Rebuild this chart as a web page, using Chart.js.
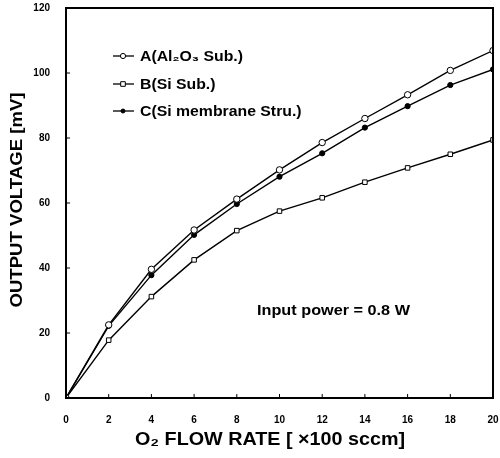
<!DOCTYPE html>
<html><head><meta charset="utf-8">
<script src="https://cdn.jsdelivr.net/npm/chart.js@4.4.0/dist/chart.umd.min.js"></script>
<style>html,body{margin:0;padding:0;background:#fff}#wrap{width:500px;height:458px}</style>
</head><body><div id="wrap"><canvas id="c" width="500" height="458"></canvas></div>
<script>
const flowRate = [0, 2, 4, 6, 8, 10, 12, 14, 16, 18, 20];
const seriesA = [0, 22.5, 39.6, 51.7, 61.2, 70.2, 78.6, 86.0, 93.3, 100.8, 106.9];
const seriesB = [0, 17.8, 31.2, 42.5, 51.5, 57.5, 61.6, 66.4, 70.8, 75.0, 79.4];
const seriesC = [0, 22.2, 37.8, 50.2, 59.7, 68.1, 75.3, 83.2, 89.8, 96.3, 101.1];
const seriesNames = ['A(Al\u2082O\u2083 Sub.)', 'B(Si Sub.)', 'C(Si membrane Stru.)'];
const xTitle = 'O\u2082 FLOW RATE [ \u00d7100 sccm]';
const yTitle = 'OUTPUT VOLTAGE [mV]';
const note = 'Input power = 0.8 W';

const FONT = '"Liberation Sans", Arial, sans-serif';
const pts = arr => flowRate.map((x, i) => ({x, y: arr[i]}));

const styles = [
  {pointStyle: 'circle', radius: 3.2, bg: '#fff'},
  {pointStyle: 'rect', radius: 3.2, bg: '#fff'},
  {pointStyle: 'circle', radius: 2.6, bg: '#000'}
];

function drawStretched(ctx, text, size, sx, x, y) {
  ctx.font = 'bold ' + size + 'px ' + FONT;
  ctx.save();
  ctx.translate(x, y);
  ctx.scale(sx, 1);
  ctx.fillText(text, 0, 0);
  ctx.restore();
}
function stretchFor(ctx, text, size, target) {
  ctx.font = 'bold ' + size + 'px ' + FONT;
  return target / ctx.measureText(text).width;
}

const deco = {
  id: 'deco',
  afterDraw(chart) {
    const ctx = chart.ctx, a = chart.chartArea;
    const xs = chart.scales.x, ys = chart.scales.y;
    ctx.save();
    ctx.strokeStyle = '#000';
    ctx.lineWidth = 2;
    ctx.strokeRect(a.left, a.top, a.right - a.left, a.bottom - a.top);
    ctx.lineWidth = 1;
    ctx.beginPath();
    ys.ticks.forEach(t => {const y = ys.getPixelForValue(t.value); ctx.moveTo(a.left, y); ctx.lineTo(a.left + 4, y);});
    xs.ticks.forEach(t => {const x = xs.getPixelForValue(t.value); ctx.moveTo(x, a.bottom); ctx.lineTo(x, a.bottom - 4);});
    ctx.stroke();
    // legend
    const rows = [56, 84, 111];
    ctx.textBaseline = 'middle';
    ctx.fillStyle = '#000';
    const lsx = stretchFor(ctx, seriesNames[0], 14, 103);
    rows.forEach((y, i) => {
      ctx.lineWidth = 1.3;
      ctx.beginPath(); ctx.moveTo(113, y); ctx.lineTo(134, y); ctx.stroke();
      const s = styles[i];
      ctx.fillStyle = s.bg;
      ctx.lineWidth = 1;
      ctx.beginPath();
      if (s.pointStyle === 'rect') ctx.rect(123 - 2.3, y - 2.3, 4.6, 4.6);
      else ctx.arc(123, y, s.radius - 0.6, 0, Math.PI * 2);
      ctx.fill(); ctx.stroke();
      ctx.fillStyle = '#000';
      drawStretched(ctx, seriesNames[i], 14, lsx, 140, y + 1);
    });
    drawStretched(ctx, note, 14.5, stretchFor(ctx, note, 14.5, 153), 257, 311);
    // axis titles
    ctx.textAlign = 'center';
    drawStretched(ctx, xTitle, 18, stretchFor(ctx, xTitle, 18, 270), 270, 440);
    ctx.save();
    ctx.translate(17, 200);
    ctx.rotate(-Math.PI / 2);
    drawStretched(ctx, yTitle, 17, stretchFor(ctx, yTitle, 17, 215), 0, 0);
    ctx.restore();
    ctx.restore();
  }
};

new Chart(document.getElementById('c'), {
  type: 'line',
  data: {
    datasets: [seriesA, seriesB, seriesC].map((arr, i) => ({
      label: seriesNames[i],
      data: pts(arr),
      borderColor: '#000',
      borderWidth: 1.4,
      pointStyle: styles[i].pointStyle,
      pointRadius: styles[i].radius,
      pointBackgroundColor: styles[i].bg,
      pointBorderColor: '#000',
      pointBorderWidth: 1,
      tension: 0,
      fill: false
    }))
  },
  options: {
    responsive: false,
    animation: false,
    layout: {padding: {top: 8, right: 7, left: 0, bottom: 0}},
    plugins: {legend: {display: false}, tooltip: {enabled: false}},
    scales: {
      x: {
        type: 'linear', min: 0, max: 20,
        ticks: {stepSize: 2, padding: 8, color: '#000', font: {family: FONT, size: 10, weight: 'bold'}},
        grid: {display: false},
        border: {display: false},
        afterFit(s) { s.height = 60; s.paddingLeft = 0; s.paddingRight = 0; }
      },
      y: {
        min: 0, max: 120,
        ticks: {stepSize: 20, padding: 8, color: '#000', font: {family: FONT, size: 10, weight: 'bold'}},
        grid: {display: false},
        border: {display: false},
        afterFit(s) { s.width = 66; s.paddingTop = 0; s.paddingBottom = 0; }
      }
    }
  },
  plugins: [deco]
});
</script></body></html>
